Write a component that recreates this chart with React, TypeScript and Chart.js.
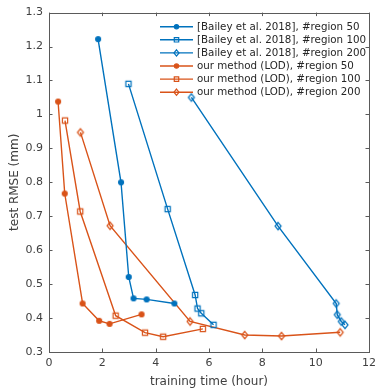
import React, { useEffect, useRef } from "react";
import { Chart, registerables } from "chart.js";

Chart.register(...registerables);

const BLUE = "#0072BD";
const ORANGE = "#D95319";

const seriesLabels = [
  "[Bailey et al. 2018], #region 50",
  "[Bailey et al. 2018], #region 100",
  "[Bailey et al. 2018], #region 200",
  "our method (LOD), #region 50",
  "our method (LOD), #region 100",
  "our method (LOD), #region 200",
];

const bailey50X = [1.84, 2.7, 2.99, 3.17, 3.66, 4.7];
const bailey50Y = [1.222, 0.8, 0.521, 0.458, 0.455, 0.443];
const bailey100X = [2.98, 4.45, 5.48, 5.57, 5.71, 6.17];
const bailey100Y = [1.09, 0.721, 0.468, 0.428, 0.414, 0.38];
const bailey200X = [5.34, 8.59, 10.77, 10.81, 10.96, 11.1];
const bailey200Y = [1.05, 0.671, 0.443, 0.41, 0.39, 0.38];
const ours50X = [0.34, 0.59, 1.26, 1.88, 2.27, 3.47];
const ours50Y = [1.038, 0.767, 0.443, 0.392, 0.383, 0.411];
const ours100X = [0.6, 1.17, 2.5, 3.6, 4.28, 5.77];
const ours100Y = [0.982, 0.714, 0.407, 0.357, 0.345, 0.368];
const ours200X = [1.18, 2.29, 5.29, 7.34, 8.72, 10.92];
const ours200Y = [0.947, 0.672, 0.39, 0.35, 0.347, 0.358];

const xTicks = [0, 2, 4, 6, 8, 10, 12];
const yTicks = [0.3, 0.4, 0.5, 0.6, 0.7, 0.8, 0.9, 1.0, 1.1, 1.2, 1.3];

const FONT = "'DejaVu Sans', sans-serif";
const TEXT_COLOR = "#404040";
const FRAME_COLOR = "#5a5a5a";

function pts(xs: number[], ys: number[]) {
  return xs.map((x, i) => ({ x, y: ys[i] }));
}

type Marker = "circle" | "square" | "diamond";

function drawMarker(ctx: CanvasRenderingContext2D, m: Marker, x: number, y: number, color: string, s = 1) {
  ctx.save();
  ctx.strokeStyle = color;
  ctx.fillStyle = color;
  ctx.lineWidth = 1.2;
  ctx.beginPath();
  if (m === "circle") {
    ctx.arc(x, y, 2.5 * s, 0, Math.PI * 2);
    ctx.fill();
    ctx.stroke();
  } else if (m === "square") {
    ctx.rect(x - 2.6 * s, y - 2.6 * s, 5.2 * s, 5.2 * s);
    ctx.stroke();
  } else {
    ctx.moveTo(x, y - 3.7 * s);
    ctx.lineTo(x + 3 * s, y);
    ctx.lineTo(x, y + 3.7 * s);
    ctx.lineTo(x - 3 * s, y);
    ctx.closePath();
    ctx.stroke();
  }
  ctx.restore();
}

function makeMarkerCanvas(m: Marker, color: string): HTMLCanvasElement {
  const c = document.createElement("canvas");
  c.width = 12;
  c.height = 12;
  const ctx = c.getContext("2d")!;
  drawMarker(ctx, m, 6, 6, color);
  return c;
}

const markers: Marker[] = ["circle", "square", "diamond", "circle", "square", "diamond"];
const colors = [BLUE, BLUE, BLUE, ORANGE, ORANGE, ORANGE];

export default function App() {
  const ref = useRef<HTMLCanvasElement | null>(null);

  useEffect(() => {
    document.body.style.margin = "0";
    const canvas = ref.current!;
    const xs = [bailey50X, bailey100X, bailey200X, ours50X, ours100X, ours200X];
    const ys = [bailey50Y, bailey100Y, bailey200Y, ours50Y, ours100Y, ours200Y];

    const datasets = seriesLabels.map((label, i) => ({
      label,
      data: pts(xs[i], ys[i]),
      showLine: true,
      borderColor: colors[i],
      backgroundColor: colors[i],
      borderWidth: 1.4,
      pointStyle: makeMarkerCanvas(markers[i], colors[i]) as any,
      pointRadius: 6,
      tension: 0,
    }));

    const framePlugin = {
      id: "frame",
      afterDatasetsDraw(chart: any) {
        const { ctx, chartArea: a, scales } = chart;
        ctx.save();
        ctx.strokeStyle = FRAME_COLOR;
        ctx.lineWidth = 1;
        ctx.strokeRect(Math.round(a.left) + 0.5, Math.round(a.top) + 0.5, Math.round(a.right - a.left), Math.round(a.bottom - a.top));
        const tl = 3.5;
        ctx.beginPath();
        for (const t of xTicks) {
          const px = Math.round(scales.x.getPixelForValue(t)) + 0.5;
          ctx.moveTo(px, a.bottom);
          ctx.lineTo(px, a.bottom - tl);
          ctx.moveTo(px, a.top);
          ctx.lineTo(px, a.top + tl);
        }
        for (const t of yTicks) {
          const py = Math.round(scales.y.getPixelForValue(t)) + 0.5;
          ctx.moveTo(a.left, py);
          ctx.lineTo(a.left + tl, py);
          ctx.moveTo(a.right, py);
          ctx.lineTo(a.right - tl, py);
        }
        ctx.stroke();
        ctx.restore();
      },
      afterDraw(chart: any) {
        const ctx = chart.ctx as CanvasRenderingContext2D;
        const x0 = 160;
        const x1 = 193;
        const y0 = 26.7;
        const dy = 13.1;
        ctx.save();
        ctx.font = `10.3px ${FONT}`;
        ctx.textBaseline = "middle";
        ctx.textAlign = "left";
        seriesLabels.forEach((label, i) => {
          const y = y0 + i * dy;
          ctx.strokeStyle = colors[i];
          ctx.lineWidth = 1.4;
          ctx.beginPath();
          ctx.moveTo(x0, y);
          ctx.lineTo(x1, y);
          ctx.stroke();
          drawMarker(ctx, markers[i], (x0 + x1) / 2, y, colors[i], 0.85);
          ctx.fillStyle = "#262626";
          ctx.fillText(label, 197, y + 0.5);
        });
        ctx.restore();
      },
    };

    const chart = new Chart(canvas, {
      type: "scatter",
      data: { datasets: datasets as any },
      options: {
        responsive: false,
        animation: false,
        devicePixelRatio: 1,
        layout: { padding: { top: 10, right: 5.5, left: 0, bottom: 0 } },
        plugins: { legend: { display: false }, tooltip: { enabled: false } },
        scales: {
          x: {
            type: "linear",
            min: 0,
            max: 12,
            afterBuildTicks: (s: any) => {
              s.ticks = xTicks.map((v) => ({ value: v }));
            },
            afterFit: (s: any) => {
              s.height = 39;
            },
            grid: { display: false, drawTicks: false },
            border: { display: false },
            ticks: {
              color: TEXT_COLOR,
              font: { family: FONT, size: 11 },
              padding: 5,
              maxRotation: 0,
              callback: (v: any) => String(Number(Number(v).toFixed(1))),
            },
            title: {
              display: true,
              text: "training time (hour)",
              color: TEXT_COLOR,
              font: { family: FONT, size: 12 },
              padding: { top: 0, bottom: 2 },
            },
          },
          y: {
            type: "linear",
            min: 0.3,
            max: 1.3,
            afterBuildTicks: (s: any) => {
              s.ticks = yTicks.map((v) => ({ value: v }));
            },
            afterFit: (s: any) => {
              s.width = 49;
            },
            grid: { display: false, drawTicks: false },
            border: { display: false },
            ticks: {
              color: TEXT_COLOR,
              font: { family: FONT, size: 11 },
              padding: 6,
              callback: (v: any) => String(Number(Number(v).toFixed(1))),
            },
            title: {
              display: true,
              text: "test RMSE (mm)",
              color: TEXT_COLOR,
              font: { family: FONT, size: 12 },
              padding: { top: 8, bottom: 0 },
            },
          },
        },
      },
      plugins: [framePlugin],
    });
    return () => chart.destroy();
  }, []);

  return (
    <div style={{ position: "fixed", left: 0, top: 0, width: 381, height: 391, background: "#fff" }}>
      <canvas ref={ref} width={381} height={391} style={{ display: "block" }} />
    </div>
  );
}
